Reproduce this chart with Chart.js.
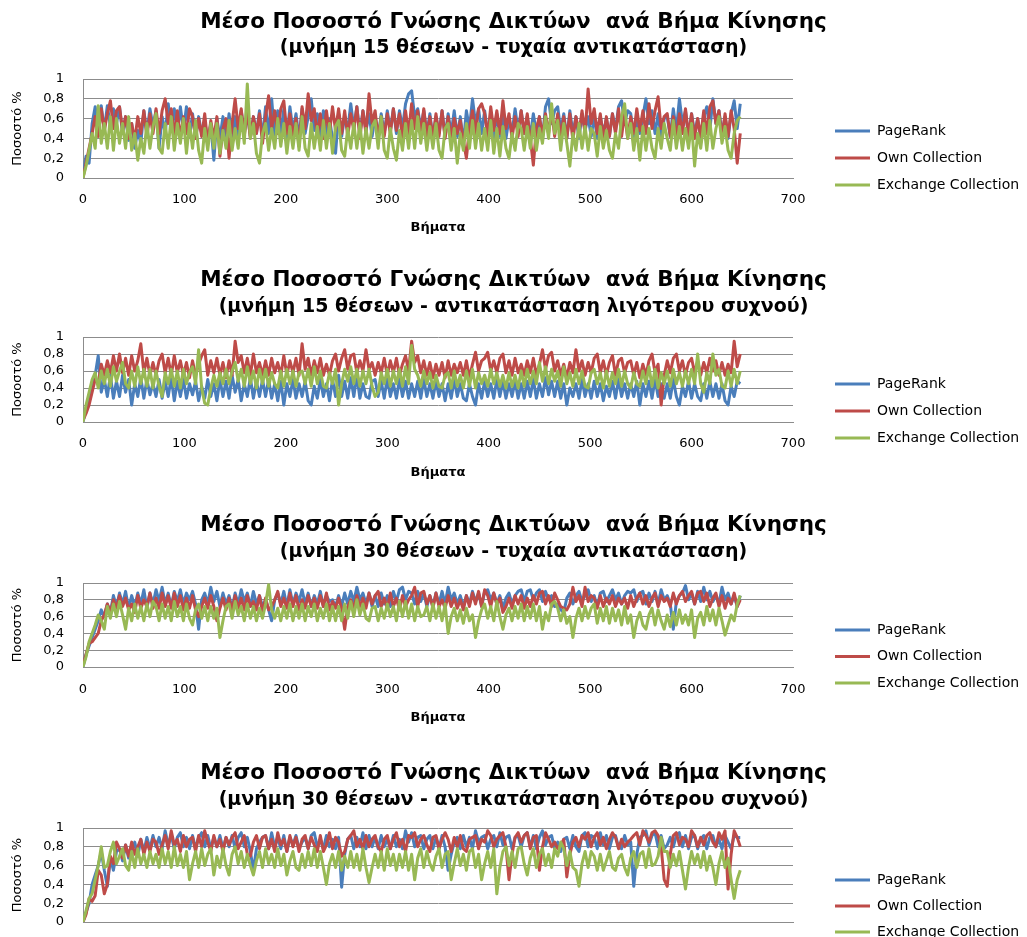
<!DOCTYPE html>
<html>
<head>
<meta charset="utf-8">
<title>Μέσο Ποσοστό Γνώσης Δικτύων</title>
<script src="https://cdn.jsdelivr.net/npm/chart.js@4"></script>
<style>
  html, body { margin: 0; padding: 0; background: #ffffff; width: 1027px; height: 937px; overflow: hidden; }
  .panel { position: absolute; left: 0; width: 1027px; }
  .panel canvas { display: block; }
</style>
</head>
<body>
<div class="panel" id="p1"><canvas id="c1"></canvas></div>
<div class="panel" id="p2"><canvas id="c2"></canvas></div>
<div class="panel" id="p3"><canvas id="c3"></canvas></div>
<div class="panel" id="p4"><canvas id="c4"></canvas></div>
<script>
// Sampled movement steps (every 3rd step, 0..648)
const steps = Array.from({ length: 217 }, (_, i) => i * 3);

// Knowledge percentage per sampled step (0..100)

// ---- memory 15, random replacement ----
const pr15rand = [
  2,22,15,55,72,50,73,48,73,52,70,55,
  72,45,62,38,55,30,48,35,68,45,70,52,
  68,30,62,45,75,50,70,45,72,48,72,42,
  65,40,62,45,58,35,55,18,60,40,62,38,
  65,40,62,42,68,45,65,42,62,45,68,40,
  72,45,80,42,68,45,70,40,72,48,65,40,
  70,45,62,80,48,65,40,68,45,60,40,25,
  65,42,62,48,75,50,72,45,68,48,65,42,
  62,40,65,45,68,48,70,45,68,50,75,85,
  88,62,70,50,68,45,65,40,62,45,68,42,
  65,45,68,42,62,35,68,50,80,55,70,45,
  68,45,62,40,65,42,62,40,60,45,70,48,
  68,45,62,42,65,45,62,40,72,80,55,68,
  72,48,65,40,68,45,62,40,65,48,62,42,
  62,40,62,45,60,42,65,48,72,78,55,68,
  65,42,60,45,62,80,55,68,45,65,40,60,
  62,42,70,48,80,55,68,42,65,45,60,40,
  62,72,48,80,55,68,45,62,40,65,78,50,
  75
];
const own15rand = [
  0,15,30,45,62,42,70,48,65,78,50,68,
  72,48,62,40,55,38,62,45,68,42,65,45,
  70,45,68,80,55,70,42,68,40,62,45,70,
  62,40,60,42,65,35,58,40,62,22,50,60,
  20,55,80,50,70,42,68,40,62,45,65,35,
  62,83,50,68,45,70,78,45,65,42,60,32,
  72,50,85,58,70,42,65,40,68,45,72,48,
  70,45,68,42,65,48,72,40,68,45,85,55,
  68,40,62,42,65,45,70,48,65,40,68,45,
  75,50,68,45,70,42,62,40,65,42,68,40,
  62,40,60,45,58,38,20,50,68,45,70,75,
  65,42,72,48,68,45,78,50,65,40,62,42,
  68,45,65,40,13,50,62,42,65,45,68,42,
  65,42,62,40,65,38,62,45,68,45,90,55,
  70,45,65,40,62,42,65,45,70,42,65,40,
  62,45,70,48,68,45,75,50,68,82,50,62,
  65,42,62,40,65,45,70,42,65,40,60,42,
  68,45,72,78,55,68,40,65,42,68,50,15,
  45
];
const exch15rand = [
  0,12,28,45,30,73,35,55,30,62,28,60,
  35,55,30,62,28,45,18,40,25,55,30,52,
  65,30,25,55,30,62,28,55,35,60,25,55,
  30,58,28,15,50,28,55,30,55,25,48,30,
  58,28,50,30,62,35,95,40,55,25,15,45,
  55,28,50,30,60,32,55,25,52,30,55,28,
  62,30,22,55,30,52,28,58,30,55,25,52,
  58,28,22,50,30,55,30,55,25,50,30,52,
  58,30,62,28,20,50,30,18,48,28,55,30,
  58,30,62,35,55,28,52,30,55,28,20,50,
  55,28,50,15,45,28,55,30,58,30,55,28,
  50,28,58,25,50,22,52,30,20,45,28,55,
  50,28,52,30,55,28,50,35,62,40,75,45,
  58,28,55,35,12,45,28,55,30,52,28,50,
  45,22,52,30,48,28,20,45,30,62,75,40,
  55,28,50,18,52,28,50,30,20,50,30,55,
  40,28,58,30,52,28,50,30,55,12,45,30,
  55,28,58,30,50,62,35,52,28,20,45,58,
  62
];

// ---- memory 15, least-frequent replacement ----
const pr15lfu = [
  0,15,30,42,55,78,35,50,30,55,28,48,
  30,55,35,50,20,45,30,52,28,50,32,45,
  30,50,28,48,30,52,25,48,30,50,28,45,
  32,48,25,42,28,50,30,45,25,50,30,48,
  28,55,35,50,25,45,30,52,28,48,30,50,
  30,50,28,45,25,48,20,45,30,50,28,45,
  30,48,25,20,42,28,50,30,45,25,50,30,
  55,30,48,28,52,30,55,28,45,30,28,48,
  50,30,48,28,52,30,45,28,50,30,48,28,
  45,30,48,28,50,30,45,28,48,30,45,25,
  45,28,50,30,45,28,25,45,30,20,45,28,
  48,30,45,28,50,30,48,28,45,30,48,28,
  45,28,48,30,50,28,45,30,52,32,48,30,
  48,28,45,20,40,30,45,28,50,30,45,28,
  48,30,45,25,42,30,48,28,50,30,45,28,
  45,30,48,20,45,30,48,28,50,30,45,28,
  45,28,50,30,20,42,30,48,28,45,30,25,
  45,28,48,30,45,28,45,25,20,42,30,48,
  45
];
const own15lfu = [
  2,10,20,35,50,45,68,55,72,58,78,60,
  80,58,75,55,78,60,72,92,58,75,55,70,
  55,72,80,58,75,55,78,58,72,55,70,52,
  72,55,68,78,85,55,72,58,75,55,70,52,
  72,55,95,70,78,58,75,55,80,58,70,55,
  72,55,75,58,70,55,78,55,72,58,75,55,
  92,62,75,55,72,58,75,55,68,55,72,80,
  60,75,85,62,78,80,58,72,60,85,62,70,
  55,70,58,75,55,72,58,75,55,68,78,60,
  95,70,78,58,72,55,70,52,68,55,70,52,
  72,55,68,58,70,55,72,52,68,82,60,72,
  75,82,60,72,58,75,80,58,72,55,75,58,
  68,55,72,58,75,55,68,85,62,78,82,60,
  72,55,68,52,70,58,85,60,72,55,70,58,
  75,80,58,72,55,70,78,55,72,75,58,70,
  72,55,70,52,68,55,72,80,58,68,20,55,
  72,58,75,80,60,72,55,70,75,58,72,55,
  70,58,75,60,72,55,70,55,68,58,95,65,
  80
];
const exch15lfu = [
  0,20,35,50,58,40,60,45,62,42,65,48,
  60,70,45,40,60,42,65,45,62,42,62,40,
  60,42,30,58,45,62,42,60,40,62,45,58,
  65,45,85,40,22,20,40,55,42,58,45,62,
  45,60,70,48,62,42,65,45,60,40,62,45,
  62,42,58,45,40,60,42,62,45,60,42,58,
  60,45,62,42,65,45,60,42,40,58,45,62,
  20,45,62,48,65,45,62,42,60,45,62,42,
  30,35,58,45,62,42,60,45,62,42,65,45,
  90,62,55,42,60,45,58,40,55,42,40,55,
  58,40,60,42,55,40,60,42,62,40,58,45,
  55,42,62,45,58,42,55,40,58,42,55,40,
  60,42,62,45,60,45,70,48,65,45,62,48,
  60,42,65,45,58,42,62,45,60,42,40,58,
  62,45,58,40,60,42,58,45,62,42,60,45,
  40,58,45,42,60,45,65,42,62,40,58,45,
  60,42,62,45,58,42,60,45,62,45,80,45,
  35,58,45,80,55,62,42,40,60,42,62,45,
  60
];

// ---- memory 30, random replacement ----
const pr30rand = [
  0,15,25,35,45,55,68,60,75,65,85,72,
  88,75,90,70,85,72,88,75,92,70,88,75,
  92,78,95,75,88,72,90,78,92,75,88,80,
  90,75,45,80,88,75,95,78,90,72,88,75,
  85,70,88,75,92,78,88,72,90,75,85,72,
  80,68,55,80,88,75,90,72,92,75,88,78,
  92,75,88,72,85,75,90,72,85,78,80,72,
  85,72,88,75,90,78,95,80,88,75,88,72,
  85,72,88,75,85,72,90,78,92,95,80,90,
  88,75,90,78,88,72,85,72,88,75,90,75,
  95,80,88,75,85,72,85,75,90,78,88,72,
  90,92,80,88,75,85,70,82,88,75,85,90,
  92,78,90,92,80,88,92,78,90,80,85,72,
  75,68,65,82,88,75,85,90,78,85,92,78,
  85,72,88,90,78,85,92,80,88,75,85,90,
  88,92,78,88,90,75,88,78,90,75,92,80,
  85,75,45,78,85,88,97,80,88,75,90,78,
  95,80,90,78,85,75,95,80,88,75,85,72,
  85
];
const own30rand = [
  2,15,28,30,35,40,55,62,75,65,80,70,
  85,72,82,68,75,65,85,70,80,72,88,70,
  82,70,88,72,85,70,88,72,85,68,82,70,
  85,68,60,72,82,70,85,72,55,70,82,68,
  82,68,85,70,82,68,85,72,78,68,85,65,
  82,68,72,80,90,72,82,70,88,72,85,68,
  80,70,85,72,82,70,85,72,88,68,78,70,
  82,70,45,72,80,70,85,72,82,70,88,75,
  85,90,72,82,70,88,72,82,68,85,72,80,
  85,95,72,88,90,75,85,70,88,72,80,70,
  85,72,82,70,80,68,85,72,88,75,90,72,
  92,85,72,88,75,82,65,72,82,70,85,75,
  85,70,82,72,85,75,88,90,75,85,72,88,
  80,72,70,68,75,95,78,85,72,95,78,85,
  82,70,85,72,82,75,85,72,82,75,82,70,
  85,72,82,88,75,85,72,82,88,72,85,78,
  82,72,88,75,85,90,78,85,90,75,88,90,
  78,88,72,82,88,72,85,70,82,75,88,72,
  80
];
const exch30rand = [
  0,12,30,40,50,62,55,45,72,58,75,60,
  78,62,45,70,55,75,58,72,55,75,60,78,
  72,55,75,58,72,55,78,60,72,55,75,58,
  50,68,75,58,72,55,72,58,70,35,55,72,
  75,58,78,62,72,55,75,58,72,55,70,58,
  75,98,68,58,70,55,72,58,75,55,72,58,
  75,55,72,60,75,55,70,58,75,55,72,55,
  72,55,75,58,78,60,80,62,75,58,55,70,
  72,55,70,58,75,60,72,55,78,60,78,58,
  75,55,72,60,62,72,55,75,58,72,55,75,
  40,60,70,55,68,52,70,55,62,35,55,68,
  75,58,72,55,78,60,45,62,70,55,72,58,
  75,55,72,58,75,55,72,45,65,55,75,78,
  70,55,68,52,60,35,58,70,55,72,58,70,
  75,52,70,55,72,52,70,55,68,50,72,52,
  62,35,55,65,50,45,62,70,50,68,55,45,
  62,48,65,50,68,52,62,50,68,35,58,65,
  50,72,55,68,50,70,55,38,50,62,55,75,
  85
];

// ---- memory 30, least-frequent replacement ----
const pr30lfu = [
  0,10,20,40,50,60,75,55,38,68,55,75,
  78,65,82,68,75,85,70,88,75,90,78,92,
  80,90,78,97,82,92,78,90,95,80,90,78,
  92,78,90,95,80,92,78,90,80,92,78,90,
  80,92,78,90,95,80,90,75,55,78,85,90,
  92,78,95,80,90,78,92,75,90,82,92,78,
  85,90,78,92,95,80,88,78,92,80,88,78,
  90,37,72,88,92,78,90,80,95,78,92,80,
  90,78,92,80,88,78,92,80,88,78,97,85,
  95,80,90,92,78,88,92,78,90,78,92,80,
  55,72,85,90,78,92,80,90,78,97,85,90,
  92,78,88,92,80,95,82,90,92,78,90,92,
  80,92,95,80,92,78,90,97,82,90,92,78,
  85,75,88,90,78,92,80,75,92,95,80,92,
  90,78,95,82,92,78,90,92,80,78,92,82,
  85,38,72,90,92,97,82,92,95,80,92,78,
  82,90,80,92,95,80,92,78,90,92,78,88,
  92,78,90,92,80,88,78,92,85,78,92,90,
  90
];
const own30lfu = [
  0,8,25,22,28,55,50,30,40,70,62,85,
  78,68,82,70,85,72,80,88,72,85,75,88,
  85,72,82,92,78,97,82,88,75,92,80,88,
  90,75,92,80,97,85,75,92,80,88,75,90,
  82,90,95,78,85,92,72,70,85,92,78,90,
  92,78,88,75,95,82,88,75,92,80,90,75,
  88,92,78,90,82,75,92,75,82,95,78,90,
  85,70,75,88,92,97,80,88,78,92,80,88,
  92,80,75,88,92,78,88,95,80,88,75,92,
  90,95,80,88,92,82,75,90,92,78,88,95,
  88,75,90,80,92,78,75,88,90,92,78,88,
  85,97,92,80,88,92,95,80,45,72,90,95,
  85,92,95,78,90,92,55,80,95,88,80,85,
  78,82,88,48,72,85,90,80,92,88,95,80,
  90,95,82,90,78,88,95,90,78,88,80,85,
  88,92,95,82,97,92,85,95,97,92,80,45,
  38,72,92,95,82,90,88,80,97,92,80,90,
  82,92,95,85,80,95,88,97,35,72,97,90,
  80
];
const exch30lfu = [
  0,12,25,30,45,60,80,58,60,75,85,62,
  70,78,60,55,75,58,78,62,72,58,75,62,
  72,58,78,62,75,58,80,60,72,58,75,45,
  62,75,58,78,60,72,78,50,70,58,78,60,
  50,72,80,62,75,58,72,60,50,65,75,58,
  78,62,72,58,78,60,72,50,65,75,58,55,
  72,58,75,60,78,58,75,58,40,62,72,58,
  75,55,70,58,75,58,72,55,78,58,42,58,
  72,58,75,55,78,60,72,55,72,58,75,55,
  72,45,68,78,58,75,62,55,70,78,58,72,
  75,45,62,78,60,72,55,75,78,58,72,45,
  62,75,58,78,30,58,75,80,60,75,58,78,
  80,62,50,68,78,58,72,78,60,72,58,78,
  70,85,78,60,75,58,55,38,62,75,58,75,
  70,55,72,55,65,75,58,55,68,72,58,50,
  68,75,58,72,75,58,78,60,62,70,90,75,
  75,58,72,60,75,55,35,58,75,62,72,58,
  75,55,70,58,40,62,75,58,68,45,25,45,
  55
];

// Texts
const mainTitle = 'Μέσο Ποσοστό Γνώσης Δικτύων  ανά Βήμα Κίνησης';
const subTitles = [
  '(μνήμη 15 θέσεων - τυχαία αντικατάσταση)',
  '(μνήμη 15 θέσεων - αντικατάσταση λιγότερου συχνού)',
  '(μνήμη 30 θέσεων - τυχαία αντικατάσταση)',
  '(μνήμη 30 θέσεων - αντικατάσταση λιγότερου συχνού)'
];
const seriesNames = ['PageRank', 'Own Collection', 'Exchange Collection'];
const seriesColors = ['#4A7EBB', '#BE4B48', '#98B954'];
const yTickLabels = ['0', '0,2', '0,4', '0,6', '0,8', '1'];
const xAxisTitle = 'Βήματα';
const yAxisTitle = 'Ποσοστό %';

// Page geometry of the four stacked panels
const CANVAS_W = 1027, PLOT_LEFT = 83, PLOT_RIGHT = 793, LEGEND_X = 835;
const TITLE_SIZE = 21.5, SUB_SIZE = 19, TICK_SIZE = 13, LEGEND_SIZE = 14;
const panels = [
  { id: 'c1', box: 'p1', top: 0,   titleY: 22,  subY: 48,  areaTop: 79,  areaBottom: 178, tickY: 200, axisTitleY: 228, legendY: 131, legendGap: 27,
    series: [pr15rand, own15rand, exch15rand], sub: subTitles[0] },
  { id: 'c2', box: 'p2', top: 258, titleY: 280, subY: 307, areaTop: 337, areaBottom: 422, tickY: 444, axisTitleY: 473, legendY: 384, legendGap: 27,
    series: [pr15lfu, own15lfu, exch15lfu], sub: subTitles[1] },
  { id: 'c3', box: 'p3', top: 503, titleY: 525, subY: 552, areaTop: 583, areaBottom: 667, tickY: 690, axisTitleY: 718, legendY: 630, legendGap: 26.5,
    series: [pr30rand, own30rand, exch30rand], sub: subTitles[2] },
  { id: 'c4', box: 'p4', top: 751, titleY: 773, subY: 800, areaTop: 828, areaBottom: 922, tickY: 944, axisTitleY: 972, legendY: 880, legendGap: 26,
    series: [pr30lfu, own30lfu, exch30lfu], sub: subTitles[3] }
];

Chart.defaults.font.family = "'DejaVu Sans', 'Liberation Sans', sans-serif";
Chart.defaults.color = '#000000';

// Places the legend column at a fixed spot to the right of the plot
const legendPlace = {
  id: 'legendPlace',
  afterLayout(chart, args, opts) {
    const lg = chart.legend;
    if (!lg) return;
    const pad = lg.options.labels.padding;
    lg.left = opts.x - pad;
    lg.right = lg.left + lg.width;
    lg.top = opts.y - pad - LEGEND_SIZE / 2;
    lg.height = 3 * (LEGEND_SIZE + pad) + pad + 20;
    lg.bottom = lg.top + lg.height;
  }
};

panels.forEach(p => {
  const H = p.axisTitleY + 14 - p.top;
  const rel = v => v - p.top;
  const wrap = document.getElementById(p.box);
  wrap.style.top = p.top + 'px';
  wrap.style.height = H + 'px';
  const canvas = document.getElementById(p.id);
  canvas.width = CANVAS_W;
  canvas.height = H;

  const tLH = TITLE_SIZE * 1.2, sLH = SUB_SIZE * 1.2, tickLH = TICK_SIZE * 1.2;
  const titlePadTop = rel(p.titleY) - tLH / 2;
  const subBoxTop = titlePadTop + tLH;
  const subPadTop = rel(p.subY) - subBoxTop - sLH / 2;
  const subPadBottom = rel(p.areaTop) - subBoxTop - subPadTop - sLH;
  const xAxisHeight = H - rel(p.areaBottom);

  new Chart(canvas, {
    type: 'line',
    data: {
      datasets: p.series.map((vals, k) => ({
        label: seriesNames[k],
        data: vals.map((v, i) => ({ x: steps[i], y: v / 100 })),
        borderColor: seriesColors[k],
        backgroundColor: seriesColors[k],
        borderWidth: 3,
        borderJoinStyle: 'round',
        pointRadius: 0,
        pointHoverRadius: 0,
        pointBorderWidth: 3,
        pointBorderColor: seriesColors[k],
        tension: 0,
        order: 2 - k
      }))
    },
    options: {
      responsive: false,
      animation: false,
      events: [],
      layout: { padding: 0 },
      scales: {
        x: {
          type: 'linear',
          min: 0,
          max: 700,
          ticks: { stepSize: 100, padding: rel(p.tickY) - rel(p.areaBottom) - tickLH / 2, font: { size: TICK_SIZE }, color: '#000', maxRotation: 0, autoSkip: false },
          grid: { display: false, drawTicks: false },
          border: { display: true, color: '#8C8C8C', width: 1 },
          title: { display: true, text: xAxisTitle, font: { size: 13, weight: 'bold' }, padding: { top: 0, bottom: 14 - 7.8 } },
          afterFit(s) { s.height = xAxisHeight; s.paddingRight = CANVAS_W - PLOT_RIGHT; }
        },
        y: {
          min: 0,
          max: 1,
          ticks: { stepSize: 0.2, autoSkip: false, padding: 19, font: { size: TICK_SIZE }, color: '#000', callback: v => yTickLabels[Math.round(v * 5)] },
          grid: { color: '#8C8C8C', lineWidth: 1, drawTicks: false },
          border: { display: true, color: '#8C8C8C', width: 1 },
          title: { display: true, text: yAxisTitle, font: { size: 13 }, padding: { top: 10, bottom: 0 } },
          afterFit(s) { s.width = PLOT_LEFT; }
        }
      },
      plugins: {
        title: {
          display: true,
          text: mainTitle,
          color: '#000',
          font: { size: TITLE_SIZE, weight: 'bold', lineHeight: 1.2 },
          padding: { top: titlePadTop, bottom: 0 }
        },
        subtitle: {
          display: true,
          text: p.sub,
          color: '#000',
          font: { size: SUB_SIZE, weight: 'bold', lineHeight: 1.2 },
          padding: { top: subPadTop, bottom: subPadBottom }
        },
        legend: {
          position: 'right',
          align: 'start',
          labels: {
            usePointStyle: true,
            pointStyle: 'line',
            pointStyleWidth: 35,
            padding: p.legendGap - LEGEND_SIZE,
            font: { size: LEGEND_SIZE },
            color: '#000',
            sort: (a, b) => a.datasetIndex - b.datasetIndex
          }
        },
        legendPlace: { x: LEGEND_X, y: rel(p.legendY) },
        tooltip: { enabled: false }
      }
    },
    plugins: [legendPlace]
  });
});
</script>
</body>
</html>
